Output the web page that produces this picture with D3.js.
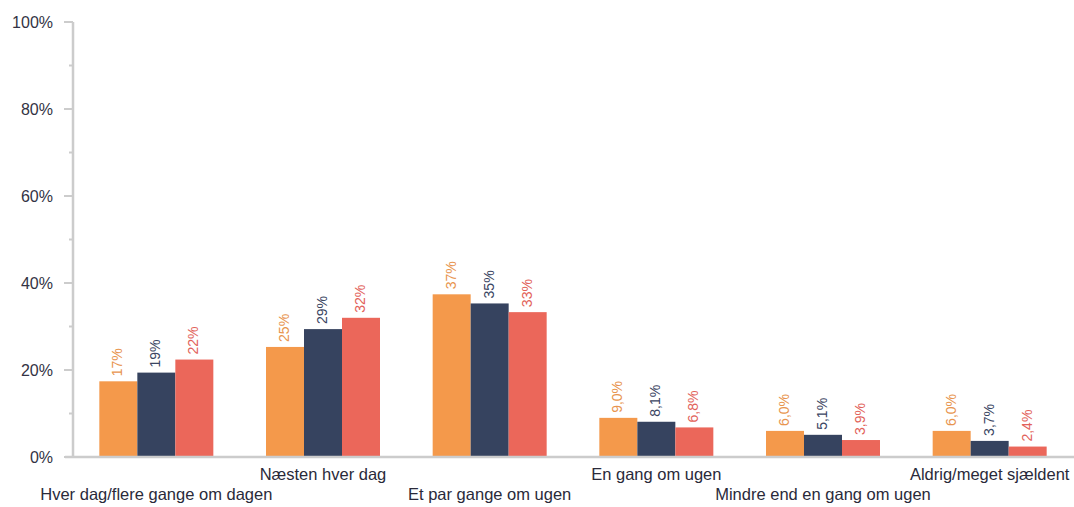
<!DOCTYPE html>
<html>
<head>
<meta charset="utf-8">
<script src="https://cdn.jsdelivr.net/npm/d3@7"></script>
<style>
  body { margin: 0; background: #fff; }
  text { font-family: "Liberation Sans", Arial, sans-serif; }
</style>
</head>
<body>
<svg id="chart" width="1074" height="507"></svg>
<script>
// data
var categories = ["Hver dag/flere gange om dagen", "Næsten hver dag", "Et par gange om ugen",
                  "En gang om ugen", "Mindre end en gang om ugen", "Aldrig/meget sjældent"];
var seriesA = [17.4, 25.3, 37.4, 9.0, 6.0, 6.0];
var seriesB = [19.4, 29.4, 35.3, 8.1, 5.1, 3.7];
var seriesC = [22.4, 32.0, 33.3, 6.8, 3.9, 2.4];
var yTicks = [0, 20, 40, 60, 80, 100];
var yMinorTicks = [10, 30, 50, 70, 90];

var series = [seriesA, seriesB, seriesC];
var barColors = ["#F4994B", "#36435F", "#EB675A"];
var labelColors = ["#E8944E", "#3A4562", "#E2625A"];

var svg = d3.select("#chart");

var x = d3.scaleBand()
  .domain(categories)
  .range([73, 1073])
  .paddingInner(0.316)
  .paddingOuter(0.158);

var xInner = d3.scaleBand()
  .domain([0, 1, 2])
  .range([0, x.bandwidth()]);

var y = d3.scaleLinear()
  .domain([0, 100])
  .range([457, 22]);

// y axis
var axisColor = "#cccccc";
svg.append("line")
  .attr("x1", 73).attr("x2", 73)
  .attr("y1", y(100)).attr("y2", y(0))
  .attr("stroke", axisColor).attr("stroke-width", 2.5);

svg.selectAll(".major")
  .data(yTicks)
  .enter().append("line")
  .attr("x1", 64).attr("x2", 73)
  .attr("y1", function(d) { return y(d); })
  .attr("y2", function(d) { return y(d); })
  .attr("stroke", axisColor).attr("stroke-width", 2);

svg.selectAll(".minor")
  .data(yMinorTicks)
  .enter().append("line")
  .attr("x1", 69).attr("x2", 73)
  .attr("y1", function(d) { return y(d); })
  .attr("y2", function(d) { return y(d); })
  .attr("stroke", axisColor).attr("stroke-width", 2);

svg.selectAll(".ylabel")
  .data(yTicks)
  .enter().append("text")
  .attr("x", 53)
  .attr("y", function(d) { return y(d) + 6; })
  .attr("text-anchor", "end")
  .attr("font-size", 16)
  .attr("fill", "#333344")
  .text(function(d) { return d + "%"; });

// bars
var groups = svg.selectAll(".group")
  .data(categories)
  .enter().append("g")
  .attr("transform", function(d) { return "translate(" + x(d) + ",0)"; });

groups.each(function(cat, i) {
  var g = d3.select(this);
  series.forEach(function(s, k) {
    var v = s[i];
    g.append("rect")
      .attr("x", xInner(k))
      .attr("y", y(v))
      .attr("width", xInner.bandwidth())
      .attr("height", y(0) - y(v))
      .attr("fill", barColors[k]);
    var lbl = v >= 10 ? Math.round(v) + "%" : v.toFixed(1).replace(".", ",") + "%";
    var cx = xInner(k) + xInner.bandwidth() / 2 + 4;
    var ty = y(v) - 5;
    g.append("text")
      .attr("transform", "translate(" + cx + "," + ty + ") rotate(-90)")
      .attr("font-size", 14)
      .attr("fill", labelColors[k])
      .text(lbl);
  });
});

// x axis line
svg.append("line")
  .attr("x1", 65).attr("x2", 1074)
  .attr("y1", y(0)).attr("y2", y(0))
  .attr("stroke", axisColor).attr("stroke-width", 2.5);

// category labels, staggered
svg.selectAll(".xlabel")
  .data(categories)
  .enter().append("text")
  .attr("x", function(d) { return x(d) + x.bandwidth() / 2; })
  .attr("y", function(d, i) { return i % 2 == 0 ? 500 : 480; })
  .attr("text-anchor", "middle")
  .attr("font-size", 16.5)
  .attr("fill", "#2a2a3a")
  .text(function(d) { return d; });
</script>
</body>
</html>
